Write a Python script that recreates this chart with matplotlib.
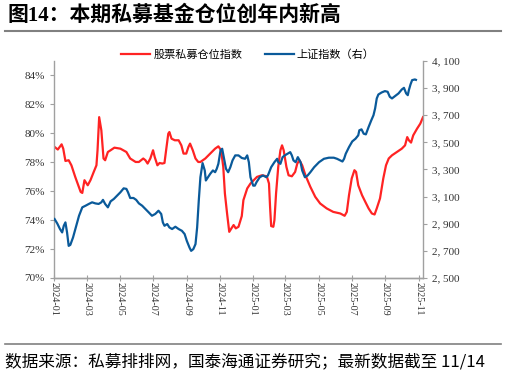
import matplotlib
matplotlib.use("Agg")
import matplotlib.pyplot as plt
import matplotlib.dates as mdates
from matplotlib.ticker import FuncFormatter
import pandas as pd

plt.rcParams['font.family'] = ['Liberation Serif', 'Noto Sans CJK SC', 'DejaVu Sans']

# 股票私募仓位指数 (%)
pos_dates = ['2024-01-02', '2024-01-08', '2024-01-15', '2024-01-18', '2024-01-22', '2024-01-28',
             '2024-02-02', '2024-02-09', '2024-02-19', '2024-02-22', '2024-02-26', '2024-03-03',
             '2024-03-08', '2024-03-14', '2024-03-19', '2024-03-21', '2024-03-24', '2024-03-28',
             '2024-04-01', '2024-04-04', '2024-04-09', '2024-04-14', '2024-04-21', '2024-05-02',
             '2024-05-13', '2024-05-20', '2024-05-30', '2024-06-05', '2024-06-13', '2024-06-17',
             '2024-06-21', '2024-06-26', '2024-07-01', '2024-07-04', '2024-07-09', '2024-07-13',
             '2024-07-18', '2024-07-22', '2024-07-25', '2024-07-29', '2024-07-31', '2024-08-04',
             '2024-08-10', '2024-08-17', '2024-08-22', '2024-08-26', '2024-08-31', '2024-09-04',
             '2024-09-07', '2024-09-12', '2024-09-17', '2024-09-22', '2024-09-26', '2024-10-05',
             '2024-10-14', '2024-10-23', '2024-10-29', '2024-11-03', '2024-11-07', '2024-11-10',
             '2024-11-14', '2024-11-18', '2024-11-22', '2024-11-26', '2024-11-30', '2024-12-05',
             '2024-12-11', '2024-12-14', '2024-12-21', '2024-12-27', '2025-01-02', '2025-01-08',
             '2025-01-17', '2025-01-26', '2025-01-30', '2025-02-01', '2025-02-03', '2025-02-07',
             '2025-02-09', '2025-02-12', '2025-02-16', '2025-02-20', '2025-02-23', '2025-02-26',
             '2025-03-03', '2025-03-07', '2025-03-13', '2025-03-19', '2025-03-23', '2025-03-27',
             '2025-04-01', '2025-04-07', '2025-04-16', '2025-04-25', '2025-05-04', '2025-05-16',
             '2025-05-28', '2025-06-10', '2025-06-18', '2025-06-22', '2025-06-26', '2025-07-01',
             '2025-07-06', '2025-07-09', '2025-07-13', '2025-07-20', '2025-07-26', '2025-08-01',
             '2025-08-07', '2025-08-12', '2025-08-16', '2025-08-22', '2025-08-28', '2025-09-02',
             '2025-09-07', '2025-09-13', '2025-09-22', '2025-10-01', '2025-10-07', '2025-10-11',
             '2025-10-14', '2025-10-18', '2025-10-22', '2025-10-29', '2025-11-04', '2025-11-09']
pos_values = [79.06, 78.88, 79.24, 78.94, 78.09, 78.14, 77.79, 76.99, 75.95, 75.88, 76.76, 76.41,
              76.76, 77.33, 77.79, 78.83, 81.12, 80.21, 78.26, 78.14, 78.71, 78.83, 79.01, 78.94,
              78.71, 78.26, 78.02, 78.02, 78.26, 78.14, 77.91, 78.26, 78.83, 78.37, 77.79, 77.95,
              77.91, 77.95, 78.83, 79.98, 80.09, 79.63, 79.52, 79.52, 79.17, 78.60, 78.60, 79.06,
              79.29, 78.83, 78.26, 78.02, 78.02, 78.26, 78.60, 78.94, 79.10, 78.83, 77.68, 75.84,
              74.46, 73.19, 73.43, 73.66, 73.43, 73.54, 74.28, 75.38, 76.19, 76.53, 76.76, 76.99,
              77.10, 77.03, 76.53, 74.92, 73.59, 73.54, 74.00, 75.84, 77.68, 78.83, 79.17, 78.83,
              77.68, 77.10, 77.03, 77.33, 77.91, 78.14, 77.79, 77.10, 76.30, 75.61, 75.15, 74.81,
              74.57, 74.46, 74.30, 74.57, 75.72, 76.88, 77.45, 77.33, 76.41, 75.72, 75.26, 74.81,
              74.46, 74.39, 74.81, 75.50, 76.88, 77.79, 78.26, 78.48, 78.71, 78.94, 79.17, 79.74,
              79.52, 79.36, 79.86, 80.32, 80.67, 81.12]

# 上证指数
sh_dates = ['2024-01-02', '2024-01-07', '2024-01-12', '2024-01-16', '2024-01-19', '2024-01-22',
            '2024-01-25', '2024-01-28', '2024-01-31', '2024-02-05', '2024-02-11', '2024-02-16',
            '2024-02-22', '2024-02-28', '2024-03-05', '2024-03-11', '2024-03-17', '2024-03-23',
            '2024-03-28', '2024-03-31', '2024-04-04', '2024-04-09', '2024-04-14', '2024-04-20',
            '2024-04-26', '2024-05-02', '2024-05-08', '2024-05-13', '2024-05-16', '2024-05-20',
            '2024-05-26', '2024-05-31', '2024-06-05', '2024-06-11', '2024-06-17', '2024-06-23',
            '2024-06-29', '2024-07-05', '2024-07-11', '2024-07-16', '2024-07-19', '2024-07-22',
            '2024-07-27', '2024-07-31', '2024-08-05', '2024-08-11', '2024-08-17', '2024-08-23',
            '2024-08-28', '2024-09-01', '2024-09-06', '2024-09-09', '2024-09-13', '2024-09-17',
            '2024-09-20', '2024-09-23', '2024-09-26', '2024-09-30', '2024-10-04', '2024-10-06',
            '2024-10-10', '2024-10-14', '2024-10-19', '2024-10-23', '2024-10-26', '2024-10-29',
            '2024-11-02', '2024-11-05', '2024-11-08', '2024-11-12', '2024-11-16', '2024-11-20',
            '2024-11-24', '2024-11-29', '2024-12-05', '2024-12-11', '2024-12-17', '2024-12-21',
            '2024-12-24', '2024-12-27', '2025-01-01', '2025-01-04', '2025-01-07', '2025-01-13',
            '2025-01-19', '2025-01-25', '2025-01-28', '2025-02-03', '2025-02-09', '2025-02-14',
            '2025-02-16', '2025-02-20', '2025-02-24', '2025-02-28', '2025-03-05', '2025-03-10',
            '2025-03-13', '2025-03-16', '2025-03-20', '2025-03-24', '2025-03-29', '2025-04-01',
            '2025-04-06', '2025-04-11', '2025-04-16', '2025-04-23', '2025-05-02', '2025-05-11',
            '2025-05-20', '2025-05-29', '2025-06-04', '2025-06-10', '2025-06-14', '2025-06-17',
            '2025-06-20', '2025-06-26', '2025-07-02', '2025-07-08', '2025-07-13', '2025-07-15',
            '2025-07-19', '2025-07-23', '2025-07-27', '2025-08-01', '2025-08-06', '2025-08-10',
            '2025-08-13', '2025-08-16', '2025-08-19', '2025-08-25', '2025-08-31', '2025-09-05',
            '2025-09-09', '2025-09-13', '2025-09-17', '2025-09-25', '2025-10-01', '2025-10-05',
            '2025-10-09', '2025-10-12', '2025-10-14', '2025-10-17', '2025-10-20', '2025-10-25',
            '2025-10-27']
sh_values = [2935, 2902, 2861, 2836, 2885, 2910, 2836, 2737, 2744, 2799, 2885, 2959, 3021, 3033,
             3046, 3058, 3050, 3046, 3058, 3076, 3046, 3021, 3065, 3083, 3107, 3132, 3161, 3157,
             3132, 3090, 3090, 3076, 3050, 3033, 3009, 2984, 2959, 2972, 2996, 2972, 2910, 2885,
             2898, 2873, 2861, 2878, 2861, 2848, 2824, 2774, 2724, 2700, 2713, 2750, 2873, 3070,
             3243, 3347, 3293, 3219, 3243, 3268, 3293, 3280, 3305, 3342, 3441, 3453, 3391, 3305,
             3280, 3317, 3367, 3404, 3404, 3385, 3379, 3404, 3354, 3243, 3181, 3181, 3206, 3243,
             3256, 3243, 3256, 3317, 3354, 3379, 3354, 3342, 3391, 3404, 3416, 3428, 3404, 3367,
             3354, 3391, 3354, 3293, 3243, 3256, 3280, 3317, 3354, 3379, 3387, 3387, 3379, 3367,
             3359, 3379, 3416, 3465, 3507, 3527, 3552, 3589, 3596, 3564, 3559, 3613, 3663, 3700,
             3750, 3824, 3853, 3868, 3878, 3873, 3836, 3824, 3836, 3861, 3890, 3902, 3861, 3848,
             3885, 3927, 3959, 3964, 3961]

x_ticks = ['2024-01', '2024-03', '2024-05', '2024-07', '2024-09', '2024-11',
           '2025-01', '2025-03', '2025-05', '2025-07', '2025-09', '2025-11']

RED = '#ff2323'
BLUE = '#0a5a9a'
GRAY = '#a0a0a0'

fig = plt.figure(figsize=(5.06, 3.74), dpi=100)
ax = fig.add_axes([0.1067, 0.2567, 0.7293, 0.5802])
ax2 = ax.twinx()

l1, = ax.plot(pd.to_datetime(pos_dates), pos_values, color=RED, lw=1.6, label='股票私募仓位指数')
l2, = ax2.plot(pd.to_datetime(sh_dates), sh_values, color=BLUE, lw=1.6, label='上证指数（右）')

ax.set_ylim(70, 85)
ax.set_yticks(range(70, 85, 2))
ax.yaxis.set_major_formatter(FuncFormatter(lambda v, p: f'{v:.0f}%'))
ax2.set_ylim(2500, 4100)
ax2.set_yticks(range(2500, 4101, 200))
ax2.yaxis.set_major_formatter(FuncFormatter(lambda v, p: f'{v:,.0f}'.replace(',', ', ')))

ax.set_xlim(pd.Timestamp('2024-01-01'), pd.Timestamp('2025-11-09'))
ax.set_xticks(pd.to_datetime(x_ticks))
ax.xaxis.set_major_formatter(mdates.DateFormatter('%Y-%m'))
for lab in ax.get_xticklabels():
    lab.set_rotation(270)

for a in (ax, ax2):
    a.spines['top'].set_visible(False)
    for s in ('left', 'right', 'bottom'):
        a.spines[s].set_color(GRAY)
        a.spines[s].set_linewidth(1.0)
    a.tick_params(axis='y', colors=GRAY, labelcolor='#333333', labelsize=8, length=3, width=0.8)
ax.tick_params(axis='x', colors=GRAY, labelcolor='#333333', labelsize=7.3, length=4,
               width=0.8, direction='inout', pad=1)
ax.spines['right'].set_visible(False)
ax2.spines['left'].set_visible(False)

fig.legend(handles=[l1, l2], loc='center', bbox_to_anchor=(0.49, 0.853), ncol=2,
           frameon=False, handlelength=2.6, columnspacing=2.0, handletextpad=0.3,
           prop={'family': ['Noto Sans CJK SC'], 'size': 8})

fig.text(0.014, 0.958, '图14：本期私募基金仓位创年内新高', fontsize=15, fontweight='bold',
         ha='left', va='center', family=['Liberation Serif', 'Noto Sans CJK SC'])
fig.add_artist(plt.Line2D([0.01, 0.99], [0.918, 0.918], color='#808080', lw=1.5))
fig.add_artist(plt.Line2D([0.01, 0.99], [0.080, 0.080], color='#808080', lw=1.2))
fig.text(0.01, 0.032, '数据来源：私募排排网，国泰海通证券研究；最新数据截至 11/14', fontsize=12,
         ha='left', va='center', family=['Noto Sans CJK SC'])

fig.savefig('out.png', dpi=100)
